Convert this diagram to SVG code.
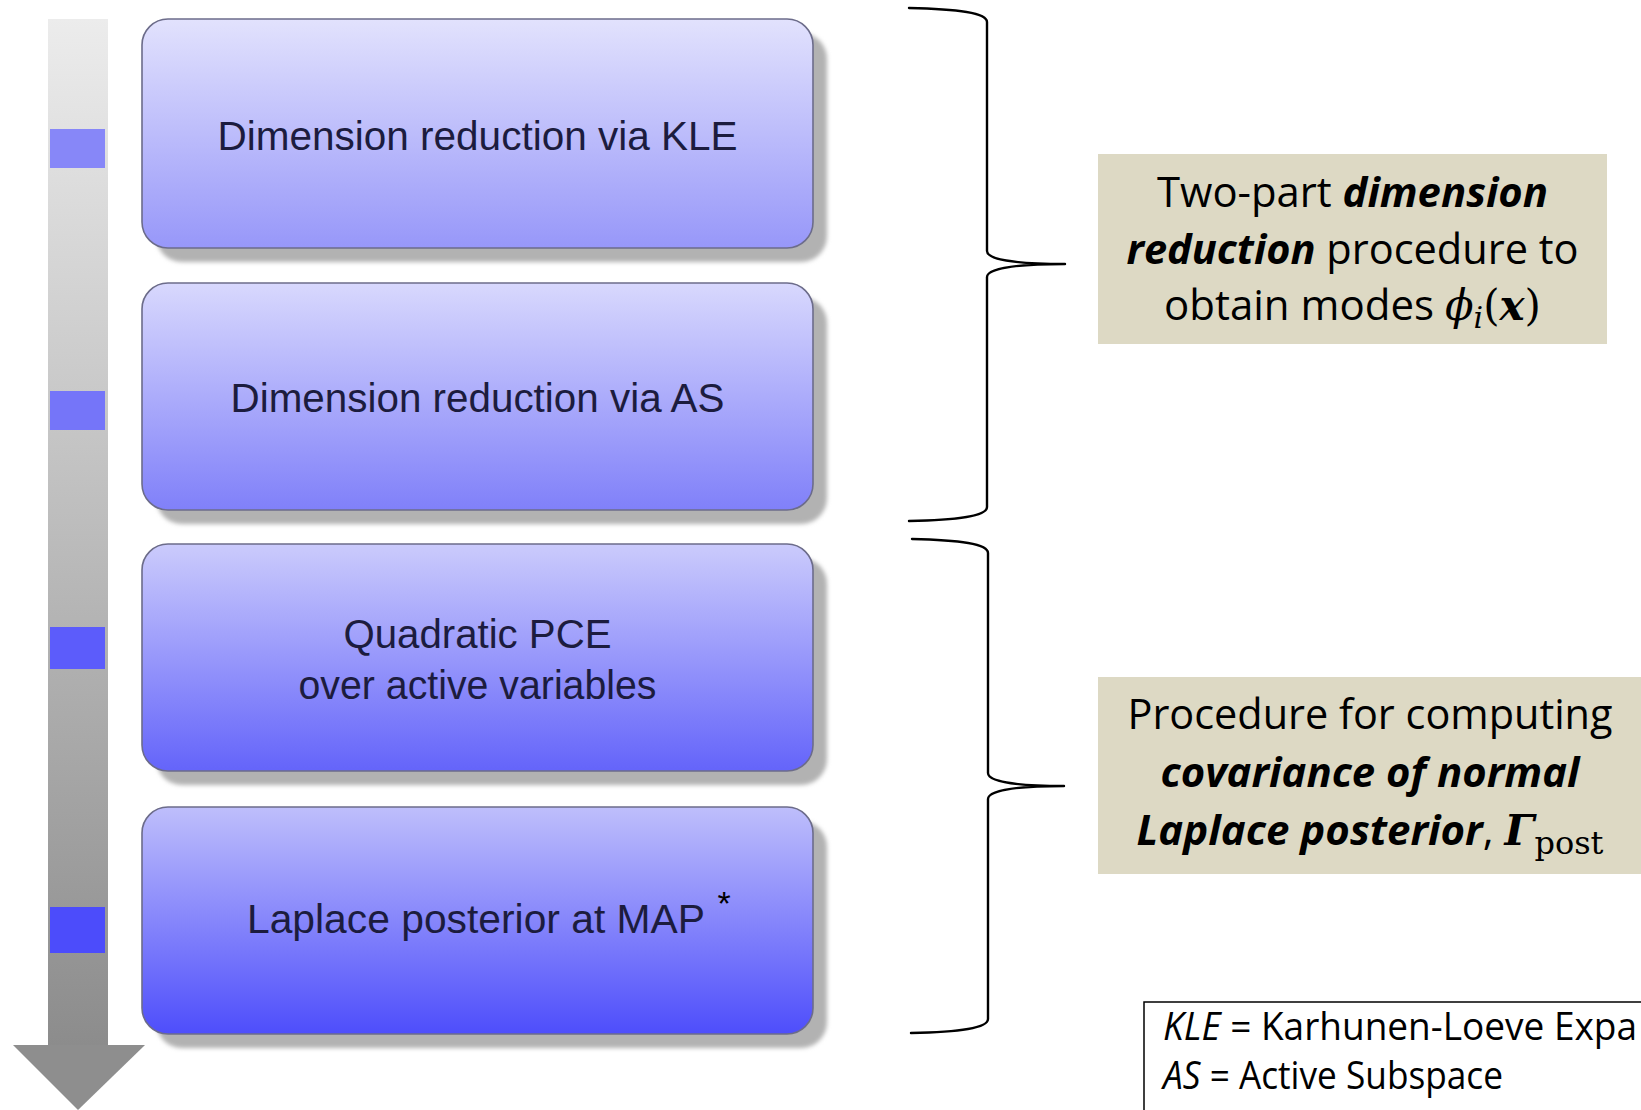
<svg xmlns="http://www.w3.org/2000/svg" width="1641" height="1110" viewBox="0 0 1641 1110">
<style>
.box{stroke:#6c6c8a;stroke-width:1.6}
.shadow{fill:#b2b2b2;filter:url(#blur)}
.lbl{font-family:"Liberation Sans",Arial,sans-serif;font-size:40px;fill:#1c1c3e;text-anchor:middle}
.note{font-family:"Open Sans","Liberation Sans",sans-serif;font-size:42px;fill:#000;text-anchor:middle}
.bi{font-weight:bold;font-style:italic}
.math{font-family:"DejaVu Serif","Liberation Serif",serif}
.leg{font-family:"Open Sans","Liberation Sans",sans-serif;font-size:38px;fill:#000}
.brace{fill:none;stroke:#000;stroke-width:2.4;stroke-linecap:round;stroke-linejoin:round}
</style>
<defs>
<filter id="blur" x="-5%" y="-5%" width="110%" height="110%"><feGaussianBlur stdDeviation="2"/></filter>
<linearGradient id="bar" x1="0" y1="0" x2="0" y2="1"><stop offset="0" stop-color="#ececec"/><stop offset="1" stop-color="#8c8c8c"/></linearGradient>
<linearGradient id="g1" x1="0" y1="0" x2="0" y2="1"><stop offset="0" stop-color="#e2e2fd"/><stop offset="1" stop-color="#9797f9"/></linearGradient>
<linearGradient id="g2" x1="0" y1="0" x2="0" y2="1"><stop offset="0" stop-color="#d8d8fd"/><stop offset="1" stop-color="#8080f9"/></linearGradient>
<linearGradient id="g3" x1="0" y1="0" x2="0" y2="1"><stop offset="0" stop-color="#cbcbfc"/><stop offset="1" stop-color="#6464fa"/></linearGradient>
<linearGradient id="g4" x1="0" y1="0" x2="0" y2="1"><stop offset="0" stop-color="#bebefb"/><stop offset="1" stop-color="#4e4efb"/></linearGradient>
</defs>
<rect width="1641" height="1110" fill="#fff"/>

<g id="timeline">
<rect x="48" y="19" width="60" height="1027" fill="url(#bar)"/>
<polygon points="13,1045 145,1045 78,1110" fill="#8e8e8e"/>
<rect x="50" y="129" width="55" height="39" fill="#8787f8"/>
<rect x="50" y="391" width="55" height="39" fill="#7575f9"/>
<rect x="50" y="627" width="55" height="42" fill="#5c5cfb"/>
<rect x="50" y="907" width="55" height="46" fill="#4c4cfb"/>
</g>

<g id="step1">
<rect class="shadow" x="156" y="33" width="671" height="229" rx="26"/>
<rect class="box" x="142" y="19" width="671" height="229" rx="26" fill="url(#g1)"/>
<text class="lbl" x="477.5" y="150" textLength="520" lengthAdjust="spacingAndGlyphs">Dimension reduction via KLE</text>
</g>
<g id="step2">
<rect class="shadow" x="156" y="297" width="671" height="227" rx="26"/>
<rect class="box" x="142" y="283" width="671" height="227" rx="26" fill="url(#g2)"/>
<text class="lbl" x="477.5" y="412" textLength="494" lengthAdjust="spacingAndGlyphs">Dimension reduction via AS</text>
</g>
<g id="step3">
<rect class="shadow" x="156" y="558" width="671" height="227" rx="26"/>
<rect class="box" x="142" y="544" width="671" height="227" rx="26" fill="url(#g3)"/>
<text class="lbl" x="477.5" y="648" textLength="268" lengthAdjust="spacingAndGlyphs">Quadratic PCE</text>
<text class="lbl" x="477.5" y="699" textLength="358" lengthAdjust="spacingAndGlyphs">over active variables</text>
</g>
<g id="step4">
<rect class="shadow" x="156" y="821" width="671" height="227" rx="26"/>
<rect class="box" x="142" y="807" width="671" height="227" rx="26" fill="url(#g4)"/>
<text class="lbl" x="476" y="933" textLength="458" lengthAdjust="spacingAndGlyphs">Laplace posterior at MAP</text>
<text x="724" y="915" font-family="Liberation Sans,sans-serif" font-size="34" fill="#000" text-anchor="middle">*</text>
</g>

<g id="connectors">
<path class="brace" d="M909,8 C958,9 987,13 987,22 L987,251 C987,259 1012,264 1065,264 C1012,264 987,269 987,277 L987,507 C987,516 958,520 909,521"/>
<path class="brace" d="M912,539 C960,540 988,544 988,553 L988,773 C988,781 1012,786 1064,786 C1012,786 988,791 988,799 L988,1019 C988,1028 960,1032 911,1033"/>
</g>

<g id="note-dimension">
<rect x="1098" y="154" width="509" height="190" fill="#ddd9c4"/>
<text class="note" x="1352.5" y="207" textLength="391" lengthAdjust="spacingAndGlyphs">Two-part <tspan class="bi">dimension</tspan></text>
<text class="note" x="1352.5" y="264" textLength="452" lengthAdjust="spacingAndGlyphs"><tspan class="bi">reduction</tspan> procedure to</text>
<text class="note" x="1352.5" y="320">obtain modes <tspan class="math" font-style="italic">ϕ</tspan><tspan class="math" font-style="italic" font-size="30" dy="8">i</tspan><tspan class="math" dy="-8">(</tspan><tspan class="math" font-weight="bold" font-style="italic">x</tspan><tspan class="math">)</tspan></text>
</g>

<g id="note-covariance">
<rect x="1098" y="677" width="545" height="197" fill="#ddd9c4"/>
<text class="note" x="1370" y="729" textLength="485" lengthAdjust="spacingAndGlyphs">Procedure for computing</text>
<text class="note bi" x="1370" y="787" textLength="419" lengthAdjust="spacingAndGlyphs">covariance of normal</text>
<text class="note" x="1370" y="845"><tspan class="bi">Laplace posterior</tspan>, <tspan class="math" font-weight="bold" font-style="italic">Γ</tspan><tspan class="math" font-size="32" dy="9">post</tspan></text>
</g>

<g id="legend">
<rect x="1144" y="1002" width="520" height="130" fill="#fff" stroke="#000" stroke-width="1.5"/>
<text class="leg" x="1163" y="1040" textLength="474" lengthAdjust="spacingAndGlyphs"><tspan font-style="italic">KLE</tspan> = Karhunen-Loeve Expa</text>
<text class="leg" x="1163" y="1089" textLength="340" lengthAdjust="spacingAndGlyphs"><tspan font-style="italic">AS</tspan> = Active Subspace</text>
</g>
</svg>
